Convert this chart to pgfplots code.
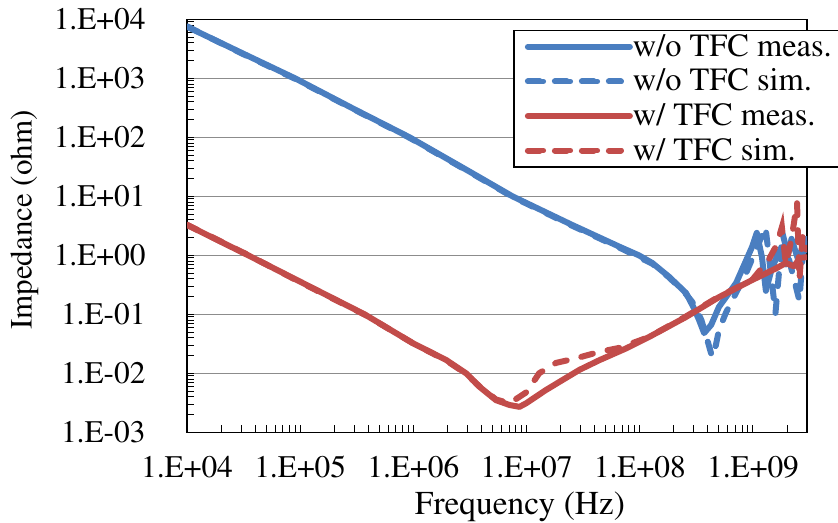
\documentclass[border=0pt]{standalone}
\usepackage[T1]{fontenc}
\renewcommand{\rmdefault}{ptm}
\usepackage{pgfplots}
\pgfplotsset{compat=1.18}
\definecolor{exblue}{RGB}{74,126,192}
\definecolor{exred}{RGB}{194,76,74}

\newcommand{\sciexp}{\pgfmathtruncatemacro{\myexp}{round(\tick/2.302585093)}1.E\ifnum\myexp<0 -0\the\numexpr-\myexp\relax\else +0\myexp\fi}

\begin{document}
\begin{tikzpicture}
\begin{axis}[
  width=310pt, height=206.5pt, scale only axis,
  xmode=log, ymode=log,
  xmin=1e4, xmax=3e9, ymin=1e-3, ymax=1e4,
  xtick={1e4,1e5,1e6,1e7,1e8,1e9},
  ytick={1e-3,1e-2,1e-1,1,1e1,1e2,1e3,1e4},
  minor xtick={2e4,3e4,4e4,5e4,6e4,7e4,8e4,9e4,2e5,3e5,4e5,5e5,6e5,7e5,8e5,9e5,
    2e6,3e6,4e6,5e6,6e6,7e6,8e6,9e6,2e7,3e7,4e7,5e7,6e7,7e7,8e7,9e7,
    2e8,3e8,4e8,5e8,6e8,7e8,8e8,9e8,2e9},
  minor ytick={2e-3,3e-3,4e-3,5e-3,6e-3,7e-3,8e-3,9e-3,2e-2,3e-2,4e-2,5e-2,6e-2,7e-2,8e-2,9e-2,
    0.2,0.3,0.4,0.5,0.6,0.7,0.8,0.9,2,3,4,5,6,7,8,9,20,30,40,50,60,70,80,90,
    200,300,400,500,600,700,800,900,2000,3000,4000,5000,6000,7000,8000,9000},
  xticklabel={\sciexp}, yticklabel={\sciexp},
  tick label style={font=\fontsize{15.7}{16}\selectfont, inner sep=0pt},
  yticklabel style={xshift=-20.5pt},
  xticklabel style={yshift=-12pt},
  tick align=inside, xtick pos=bottom, ytick pos=left,
  major tick length=3.5pt, minor tick length=3.5pt,
  ymajorgrids, grid style={gray!90, line width=0.6pt},
  axis line style={line width=0.75pt},
  every tick/.style={black, line width=0.5pt},
  xlabel={Frequency (Hz)}, ylabel={Impedance (ohm)},
  xlabel style={font=\fontsize{16.7}{17}\selectfont, at={(axis description cs:0.537,-0.200)}, anchor=base},
  ylabel style={font=\fontsize{15.5}{16}\selectfont, at={(axis description cs:-0.262,0.514)}, anchor=center},
  legend style={at={(0.526,0.975)}, anchor=north west, draw=black, line width=0.75pt,
    font=\fontsize{16.2}{17}\selectfont, inner xsep=5.5pt, inner ysep=2pt, row sep=4.8pt,
    nodes={inner sep=0pt, text depth=0.15em}},
  legend cell align=left,
  legend image code/.code={\path (0pt,0pt) -- (51pt,0pt); \draw[#1, line width=2.6pt] (1.8pt,0pt) -- (46.7pt,0pt);},
]
% w/o TFC meas.
\addplot[exblue, line width=3pt, line cap=round, line join=round] coordinates {
(1e4,7500) (3.16e4,2600) (9e4,1000) (3e5,300) (9.25e5,100) (3.16e6,26) (7.5e6,10)
(2.5e7,3.3) (6.6e7,1.4) (9.8e7,1.0) (1.29e8,0.74) (1.82e8,0.43) (2.56e8,0.23)
(3.0e8,0.128) (3.34e8,0.080) (3.7e8,0.048) (4.27e8,0.066) (5.0e8,0.133) (7.1e8,0.34)
(9.8e8,1.38) (1.08e9,2.4) (1.2e9,0.93) (1.3e9,0.25) (1.45e9,0.55) (1.7e9,1.2)
(1.95e9,0.7) (2.19e9,1.9) (2.5e9,0.85) (2.95e9,1.9)
};
% w/o TFC sim.
\addplot[exblue, line width=3pt, line cap=round, dash pattern=on 6pt off 7.5pt] coordinates {
(1e4,7600) (3.16e4,2550) (9e4,980) (3e5,295) (9.25e5,98) (3.16e6,25.5) (7.5e6,9.8)
(2.5e7,3.2) (6.6e7,1.35) (1.29e8,0.72) (1.82e8,0.42) (2.56e8,0.22) (3.0e8,0.15)
(3.5e8,0.08) (3.9e8,0.04) (4.35e8,0.019) (4.7e8,0.03) (5.0e8,0.054) (5.75e8,0.105)
(8.7e8,0.5) (1.29e9,3.0) (1.58e9,0.105) (1.82e9,2.4) (2.09e9,0.83) (2.57e9,0.17)
(2.82e9,1.9) (3e9,1.2)
};
% w/ TFC meas.
\addplot[exred, line width=3pt, line cap=round, line join=round] coordinates {
(1e4,3.27) (3.47e4,1.0) (1e5,0.357) (3.7e5,0.1) (1e6,0.032) (1.95e6,0.0168) (2.92e6,0.01)
(3.84e6,0.0059) (5.37e6,0.0035) (7.08e6,0.0029) (8.65e6,0.0027) (9.9e6,0.0031)
(1.48e7,0.0052) (2.92e7,0.0114) (4.37e7,0.0166) (7.6e7,0.0265) (1.2e8,0.041)
(2.56e8,0.09) (5.0e8,0.195) (9.8e8,0.38) (1.6e9,0.6) (1.95e9,0.74) (2.3e9,0.65)
(2.6e9,0.9) (2.95e9,0.93)
};
% w/ TFC sim.
\addplot[exred, line width=3pt, line cap=round, dash pattern=on 6pt off 7.5pt] coordinates {
(1e4,3.3) (3.47e4,1.01) (1e5,0.35) (3.7e5,0.099) (1e6,0.032) (1.95e6,0.0165) (2.92e6,0.0098)
(3.84e6,0.006) (5.37e6,0.0036) (7.08e6,0.0031) (1e7,0.0048) (1.29e7,0.01)
(1.82e7,0.015) (2.75e7,0.018) (4.37e7,0.023) (6.6e7,0.027) (1.2e8,0.041)
(2.56e8,0.092) (5e8,0.2) (9.8e8,0.38) (1.38e9,0.85) (1.62e9,1.5) (1.8e9,3.0)
(1.95e9,0.7) (2.19e9,1.9) (2.45e9,7.8) (2.57e9,0.38) (2.75e9,2.2) (2.95e9,1.26)
};
\legend{w/o TFC meas., w/o TFC sim., w/ TFC meas., w/ TFC sim.}
\end{axis}
\pgfresetboundingbox
\useasboundingbox ([xshift=-93.5pt,yshift=-45.35pt]current axis.south west) rectangle ([xshift=15.5pt,yshift=9.65pt]current axis.north east);
\end{tikzpicture}
\end{document}
